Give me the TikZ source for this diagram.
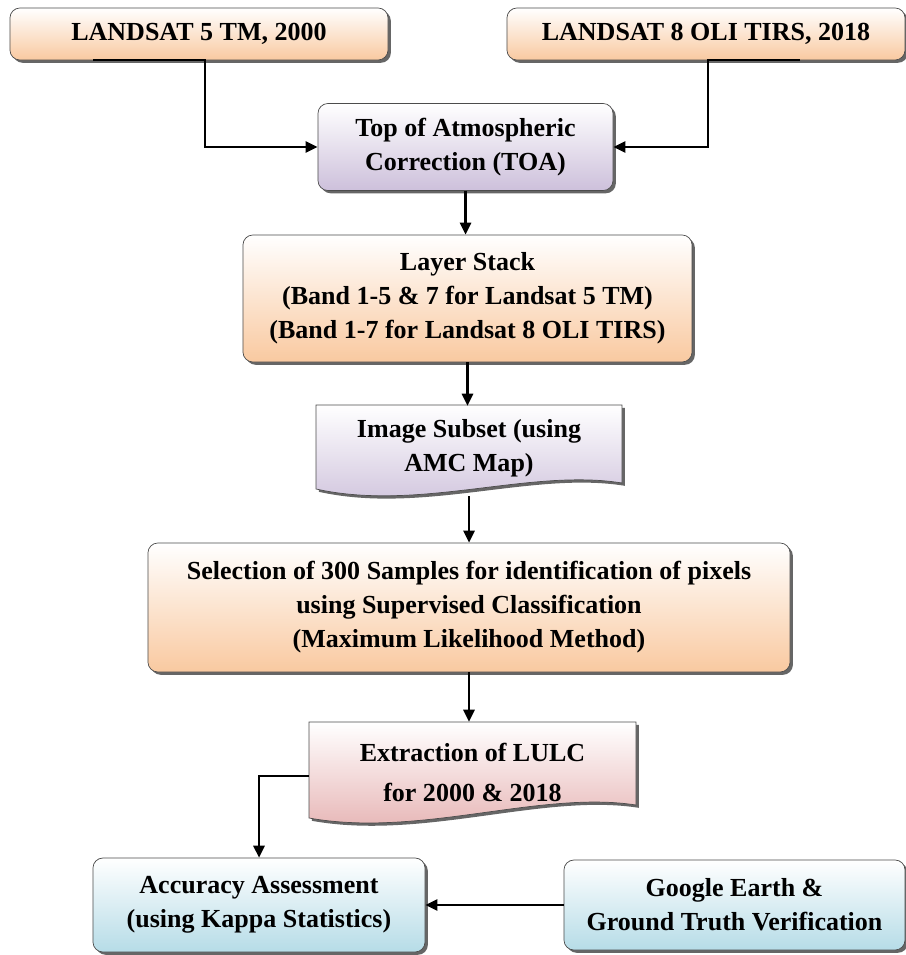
\documentclass[tikz,border=0pt]{standalone}
\usepackage{fontspec}
\setmainfont{Liberation Serif}
\usetikzlibrary{arrows.meta,shadows,calc}
\definecolor{peach}{RGB}{249,201,160}
\definecolor{lilac}{RGB}{205,192,219}
\definecolor{rose}{RGB}{229,176,176}
\definecolor{aqua}{RGB}{182,220,231}
\tikzset{
  box/.style={draw=black!70, line width=0.5pt, rounded corners=0.25cm, align=center,
    font=\bfseries\fontsize{18.5}{24.2}\selectfont,
    drop shadow={shadow xshift=0.07cm, shadow yshift=-0.07cm, fill=black!60, opacity=1}},
  doc/.style={draw=black!70, line width=0.5pt,
    drop shadow={shadow xshift=0.07cm, shadow yshift=-0.07cm, fill=black!60, opacity=1}},
  txt/.style={align=center, font=\bfseries\fontsize{18.5}{24.2}\selectfont},
  arrow/.style={line width=1.6pt, -{Triangle[length=0.3cm,width=0.28cm]}},
}
\begin{document}
\begin{tikzpicture}[x=0.025cm, y=-0.025cm]
    \useasboundingbox (0,0) rectangle (906,955);
    % input scenes
    \node[box, top color=white, bottom color=peach, minimum width=9.45cm, minimum height=1.3cm] (l5) at (199,34) {LANDSAT 5 TM, 2000};
    \node[box, top color=white, bottom color=peach, minimum width=9.95cm, minimum height=1.3cm] (l8) at (706,34) {LANDSAT 8 OLI TIRS, 2018};
    \node[box, top color=white, bottom color=lilac, minimum width=7.375cm, minimum height=2.175cm] (toa) at (465.5,147) {Top of Atmospheric\\Correction (TOA)};
    \node[box, top color=white, bottom color=peach, minimum width=11.225cm, minimum height=3.175cm] (lstack) at (467.5,298.5) {Layer Stack\\(Band 1-5 \& 7 for Landsat 5 TM)\\(Band 1-7 for Landsat 8 OLI TIRS)};
    % wavy document shapes
    \path[doc, top color=white, bottom color=lilac] (316,405) -- (622,405) -- (622,483) .. controls (530,468) and (420,512) .. (316,489) -- cycle;
    \node[txt, minimum width=7.65cm, minimum height=2.1cm] (subset) at (469,448) {Image Subset (using\\AMC Map)};
    \node[box, top color=white, bottom color=peach, minimum width=16.05cm, minimum height=3.225cm] (sel) at (469,607.5) {Selection of 300 Samples for identification of pixels\\using Supervised Classification\\(Maximum Likelihood Method)};
    \path[doc, top color=white, bottom color=rose] (309,722) -- (636,722) -- (636,805) .. controls (540,790) and (420,838) .. (309,818) -- cycle;
    \node[txt, font=\bfseries\fontsize{18.5}{28.5}\selectfont, minimum width=8.175cm, minimum height=2.5cm] (ext) at (472.5,772) {Extraction of LULC\\for 2000 \& 2018};
    % outputs
    \node[box, top color=white, bottom color=aqua, minimum width=8.3cm, minimum height=2.35cm] (acc) at (259,905) {Accuracy Assessment\\(using Kappa Statistics)};
    \node[box, top color=white, bottom color=aqua, minimum width=8.525cm, minimum height=2.25cm] (google) at (734.5,905) {Google Earth \&\\Ground Truth Verification};
    % connectors
    \coordinate (l5a) at (93,60);
    \coordinate (l8a) at (800,60);
    \draw[arrow] (l5a) -- ++(112,0) |- (toa.west);
    \draw[arrow] (l8a) -- ++(-92,0) |- (toa.east);
    \draw[arrow] (toa.south) -- (toa.south |- lstack.north);
    \draw[arrow] (lstack.south) -- (lstack.south |- subset.north);
    \draw[arrow] ([yshift=-0.15cm]subset.south) -- (subset.south |- sel.north);
    \draw[arrow] (sel.south) -- (sel.south |- ext.north);
    \draw[arrow] ([yshift=-0.1cm]ext.west) -| (acc.north);
    \draw[arrow] (google.west) -- (acc.east);
\end{tikzpicture}
\end{document}
